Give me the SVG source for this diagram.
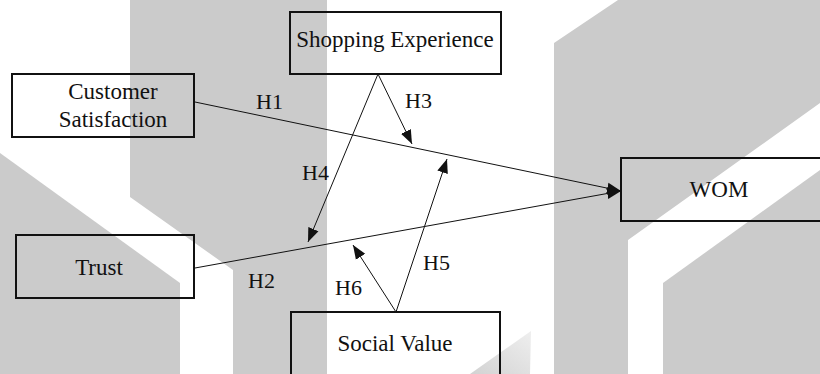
<svg xmlns="http://www.w3.org/2000/svg" width="820" height="374" viewBox="0 0 820 374">
  <style>
    .bg { fill: #cbcbcb; }
    .box { fill: none; stroke: #111; stroke-width: 2; }
    .lbl { font-family: "Liberation Serif", "Times New Roman", serif; font-size: 23px; fill: #111; text-anchor: middle; }
    .hyp { font-family: "Liberation Serif", "Times New Roman", serif; font-size: 22px; fill: #111; }
    .link { fill: none; stroke: #111; stroke-width: 1; }
  </style>
  <defs>
    <marker id="arrow" markerUnits="userSpaceOnUse" viewBox="0 0 14 12" refX="14" refY="6" markerWidth="14" markerHeight="12" orient="auto">
      <path d="M0,0.5 L14,6 L0,11.5 Z" fill="#111"/>
    </marker>
    <linearGradient id="fade" x1="0" y1="1" x2="1" y2="0">
      <stop offset="0" stop-color="#d2d2d2"/>
      <stop offset="1" stop-color="#efefef"/>
    </linearGradient>
  </defs>

  <!-- background shapes -->
  <g id="backdrop">
    <rect x="0" y="0" width="820" height="374" fill="#fff"/>
    <polygon class="bg" points="130,0 327,0 327,374 233,374 233,270 130,197"/>
    <polygon class="bg" points="0,153 180,283 180,374 0,374"/>
    <polygon class="bg" points="554,43 618,0 820,0 820,103 628,240 628,374 554,374"/>
    <polygon class="bg" points="663,283 820,170 820,374 663,374"/>
    <polygon fill="url(#fade)" points="531,331 470,374 530,374"/>
  </g>

  <!-- connectors -->
  <g id="connectors">
    <line class="link" x1="195" y1="102" x2="621" y2="191" marker-end="url(#arrow)"/>
    <line class="link" x1="195" y1="268" x2="621" y2="191" marker-end="url(#arrow)"/>
    <line class="link" x1="378" y1="74" x2="412" y2="144" marker-end="url(#arrow)"/>
    <line class="link" x1="378" y1="74" x2="308" y2="242" marker-end="url(#arrow)"/>
    <line class="link" x1="396" y1="312" x2="447" y2="159" marker-end="url(#arrow)"/>
    <line class="link" x1="396" y1="312" x2="353" y2="245" marker-end="url(#arrow)"/>
  </g>

  <!-- hypothesis labels -->
  <g id="labels">
    <text class="hyp" x="256" y="109">H1</text>
    <text class="hyp" x="248" y="288">H2</text>
    <text class="hyp" x="405" y="108">H3</text>
    <text class="hyp" x="302" y="180">H4</text>
    <text class="hyp" x="423" y="270">H5</text>
    <text class="hyp" x="335" y="295">H6</text>
  </g>

  <!-- nodes -->
  <g id="shopping-experience">
    <rect class="box" x="290" y="12" width="211" height="62"/>
    <text class="lbl" x="395" y="47">Shopping Experience</text>
  </g>
  <g id="customer-satisfaction">
    <rect class="box" x="12" y="74" width="182" height="63"/>
    <text class="lbl" x="113" y="99">Customer</text>
    <text class="lbl" x="113" y="127">Satisfaction</text>
  </g>
  <g id="trust">
    <rect class="box" x="16" y="235" width="178" height="63"/>
    <text class="lbl" x="99" y="275">Trust</text>
  </g>
  <g id="wom">
    <rect class="box" x="621" y="158" width="215" height="63"/>
    <text class="lbl" x="719" y="197">WOM</text>
  </g>
  <g id="social-value">
    <rect class="box" x="291" y="312" width="209" height="80"/>
    <text class="lbl" x="395" y="351">Social Value</text>
  </g>
</svg>
